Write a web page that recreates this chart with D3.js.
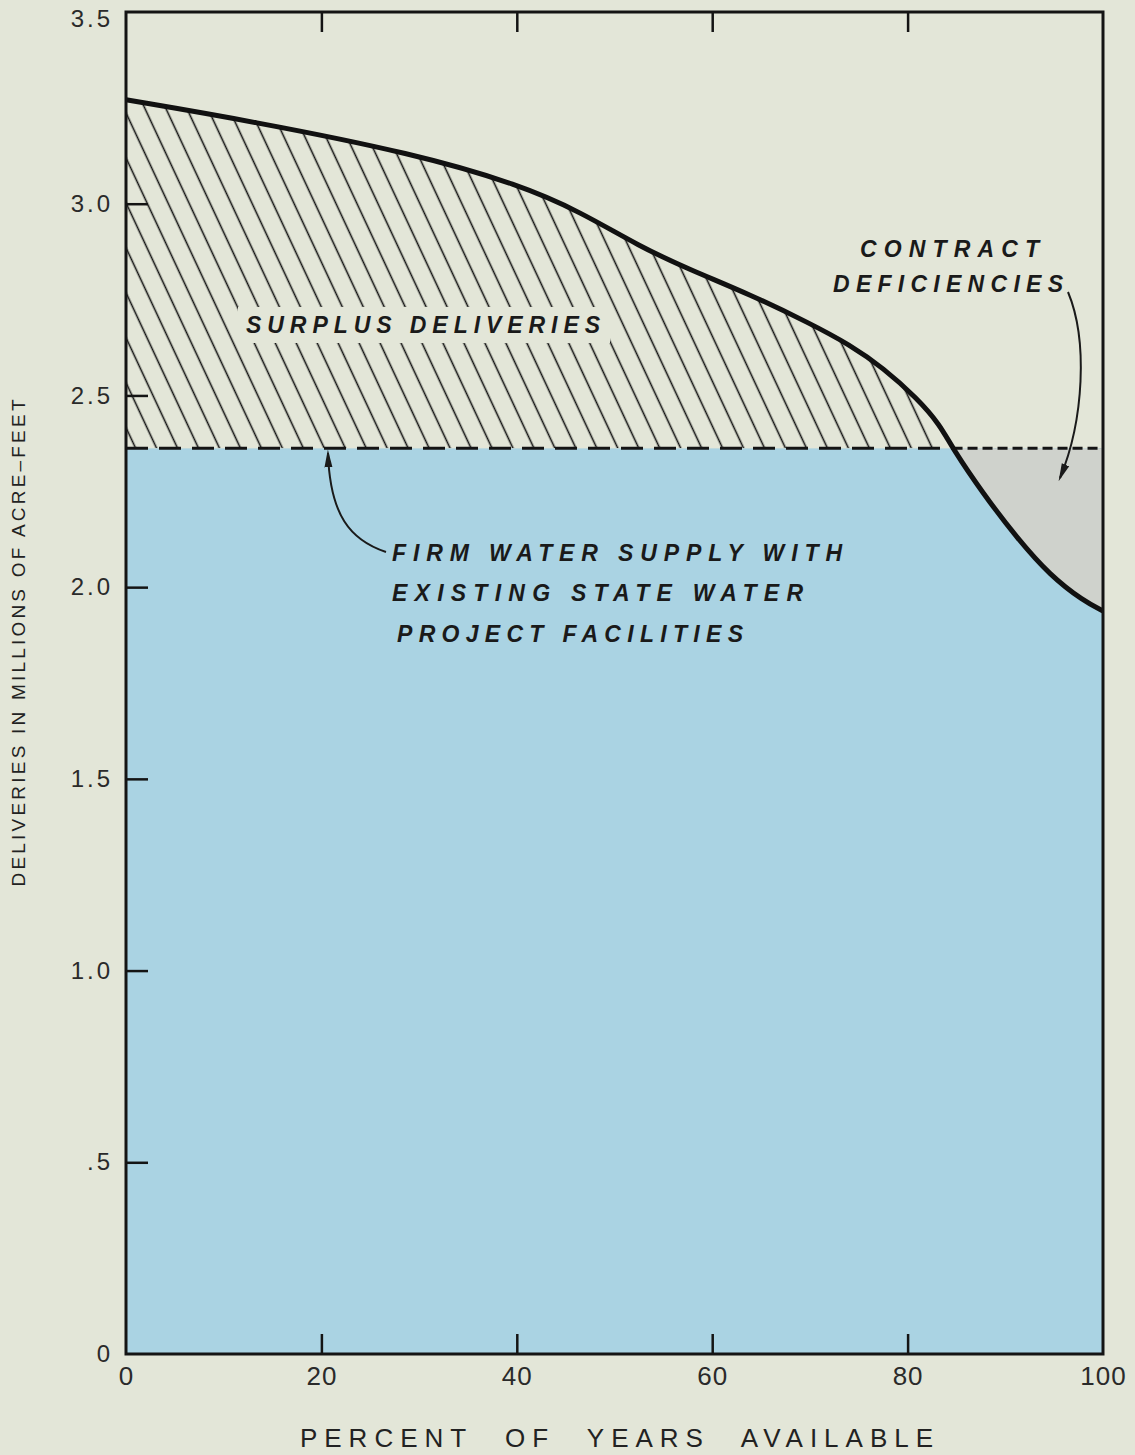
<!DOCTYPE html>
<html><head><meta charset="utf-8">
<script src="https://cdn.jsdelivr.net/npm/d3@7"></script>
<style>body{margin:0;background:#e3e6d8;} svg{display:block}</style>
</head><body><svg id="c" width="1135" height="1455"></svg>
<script>
// Data
const percent    = [0, 12.7, 29.6, 40.3, 46.5, 52.6, 57.7, 63.9, 70.0, 74.1, 77.5, 81.0, 83.3, 84.6, 87.7, 91.2, 94.6, 98.0, 100];
const deliveries = [3.271, 3.216, 3.130, 3.049, 2.979, 2.888, 2.828, 2.763, 2.688, 2.632, 2.572, 2.492, 2.424, 2.362, 2.245, 2.128, 2.030, 1.964, 1.938];
const firmSupply = 2.362;
const crossingPercent = 84.6;
const xTickValues = [0, 20, 40, 60, 80, 100];
const xTickLabels = ["0", "20", "40", "60", "80", "100"];
const yTickValues = [0, 0.5, 1.0, 1.5, 2.0, 2.5, 3.0, 3.5];
const yTickLabels = ["0", ".5", "1.0", "1.5", "2.0", "2.5", "3.0", "3.5"];
const xTitle = "PERCENT OF YEARS AVAILABLE";
const yTitle = "DELIVERIES IN MILLIONS OF ACRE\u2013FEET";
const surplusLabel = ["SURPLUS DELIVERIES"];
const deficiencyLabel = ["CONTRACT", "DEFICIENCIES"];
const firmLabel = ["FIRM WATER SUPPLY WITH", "EXISTING STATE WATER", "PROJECT FACILITIES"];

const data = percent.map((p, i) => ({p, v: deliveries[i]}));

const svg = d3.select("#c");
const FONT = "'Liberation Sans', Arial, Helvetica, sans-serif";
const x = d3.scaleLinear().domain([0, 100]).range([126, 1103]);
const y = d3.scaleLinear().domain([0, 3.5]).range([1354, 12]);

const defs = svg.append("defs");
const pat = defs.append("pattern").attr("id", "hatch")
  .attr("patternUnits", "userSpaceOnUse").attr("width", 19).attr("height", 19)
  .attr("patternTransform", "rotate(-25)");
pat.append("line").attr("x1", 9.5).attr("y1", -1).attr("x2", 9.5).attr("y2", 20)
  .attr("stroke", "#141414").attr("stroke-width", 1.6);

defs.append("clipPath").attr("id", "above").append("rect")
  .attr("x", x(0)).attr("y", 0).attr("width", x(100) - x(0)).attr("height", y(firmSupply));
defs.append("clipPath").attr("id", "below").append("rect")
  .attr("x", x(0)).attr("y", y(firmSupply)).attr("width", x(100) - x(0)).attr("height", y(0) - y(firmSupply));

const mk = defs.append("marker").attr("id", "arrow").attr("viewBox", "0 0 10 10")
  .attr("preserveAspectRatio", "none")
  .attr("refX", 8).attr("refY", 5).attr("markerWidth", 18).attr("markerHeight", 10)
  .attr("markerUnits", "userSpaceOnUse").attr("orient", "auto");
mk.append("path").attr("d", "M0,1 L10,5 L0,9 Z").attr("fill", "#1a1a1a");

// blue firm supply block
svg.append("rect").attr("x", x(0)).attr("y", y(firmSupply))
  .attr("width", x(100) - x(0)).attr("height", y(0) - y(firmSupply))
  .attr("fill", "#aad3e3");

const area = d3.area().x(d => x(d.p)).y0(y(firmSupply)).y1(d => y(d.v)).curve(d3.curveBasis);

// hatched surplus
svg.append("path").datum(data).attr("d", area).attr("fill", "url(#hatch)").attr("clip-path", "url(#above)");
// grey deficiency
svg.append("path").datum(data).attr("d", area).attr("fill", "#cfd2cc").attr("clip-path", "url(#below)");

// clear box behind surplus label
svg.append("rect").attr("x", 238).attr("y", 307).attr("width", 372).attr("height", 36).attr("fill", "#e3e6d8");

// firm dashed line
svg.append("line").attr("x1", x(0)).attr("x2", x(crossingPercent))
  .attr("y1", y(firmSupply)).attr("y2", y(firmSupply))
  .attr("stroke", "#141414").attr("stroke-width", 3).attr("stroke-dasharray", "22,11");
svg.append("line").attr("x1", x(crossingPercent)).attr("x2", x(100))
  .attr("y1", y(firmSupply)).attr("y2", y(firmSupply))
  .attr("stroke", "#141414").attr("stroke-width", 3).attr("stroke-dasharray", "10,5");

// delivery curve
svg.append("path").datum(data)
  .attr("d", d3.line().x(d => x(d.p)).y(d => y(d.v)).curve(d3.curveBasis))
  .attr("fill", "none").attr("stroke", "#111").attr("stroke-width", 5).attr("stroke-linejoin", "round");

// axes
const gB = svg.append("g").attr("transform", `translate(0,${y(0)})`)
  .call(d3.axisBottom(x).tickValues(xTickValues).tickFormat((d, i) => xTickLabels[i])
    .tickSizeInner(-20).tickSizeOuter(0).tickPadding(13));
const gT = svg.append("g").attr("transform", `translate(0,${y(3.5)})`)
  .call(d3.axisTop(x).tickValues(xTickValues.slice(1, -1)).tickFormat("")
    .tickSizeInner(-20).tickSizeOuter(0));
const gL = svg.append("g").attr("transform", `translate(${x(0)},0)`)
  .call(d3.axisLeft(y).tickValues(yTickValues).tickFormat((d, i) => yTickLabels[i])
    .tickSizeInner(-22).tickSizeOuter(0).tickPadding(13));
[gB, gT, gL].forEach(g => {
  g.select(".domain").remove();
  g.selectAll(".tick line").attr("stroke", "#141414").attr("stroke-width", 2.5);
  g.selectAll("text").attr("fill", "#2a2a2a").style("font-family", FONT);
});
gB.selectAll("text").style("font-size", "26px").style("letter-spacing", "1px");
gL.selectAll("text").style("font-size", "24px").style("letter-spacing", "3px");
gL.selectAll(".tick").filter(d => d === 3.5).select("text").attr("dy", "0.75em").attr("y", -4);
gL.selectAll(".tick").filter(d => d === 0 || d === 3.5).select("line").remove();
gB.selectAll(".tick").filter(d => d === 0 || d === 100).select("line").remove();

// frame
svg.append("rect").attr("x", x(0)).attr("y", y(3.5)).attr("width", x(100) - x(0)).attr("height", y(0) - y(3.5))
  .attr("fill", "none").attr("stroke", "#141414").attr("stroke-width", 3);

// axis titles
svg.append("text").attr("x", 620).attr("y", 1447).attr("text-anchor", "middle")
  .style("letter-spacing", "7px").style("word-spacing", "18px")
  .style("font-family", FONT).style("font-size", "26px").attr("fill", "#222").text(xTitle);
svg.append("text").attr("transform", "translate(25,643) rotate(-90)").attr("text-anchor", "middle")
  .attr("textLength", 487).attr("lengthAdjust", "spacing")
  .style("font-family", FONT).style("font-size", "19px").attr("fill", "#222").text(yTitle);

// annotations
function label(lines, xs, ys, widths) {
  lines.forEach((t, i) => {
    svg.append("text").attr("x", xs[i]).attr("y", ys[i])
      .attr("textLength", widths[i]).attr("lengthAdjust", "spacing")
      .style("font-family", FONT).style("font-size", "23px").style("font-weight", "bold").style("font-style", "italic")
      .attr("fill", "#1a1a1a").text(t);
  });
}
label(surplusLabel, [246], [333], [354]);
label(deficiencyLabel, [860, 833], [257, 292], [179, 230]);
label(firmLabel, [392, 392, 397], [561, 601, 642], [450, 411, 346]);

// arrows
svg.append("path").attr("d", "M386,552 C350,540 330,515 328,453")
  .attr("fill", "none").attr("stroke", "#1a1a1a").attr("stroke-width", 2).attr("marker-end", "url(#arrow)");
svg.append("path").attr("d", "M1068,292 C1088,340 1084,420 1060,478")
  .attr("fill", "none").attr("stroke", "#1a1a1a").attr("stroke-width", 2).attr("marker-end", "url(#arrow)");
</script></body></html>
